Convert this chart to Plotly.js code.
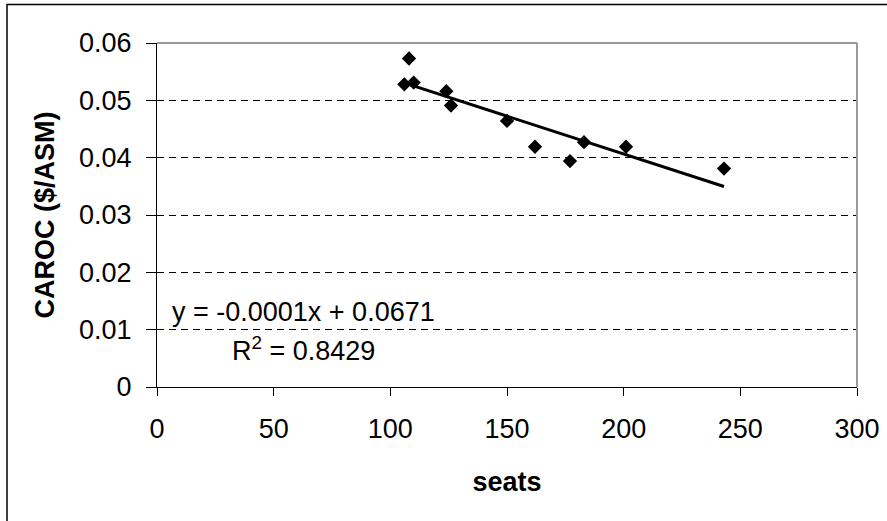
<!DOCTYPE html>
<html>
<head>
<meta charset="utf-8">
<script src="https://cdn.plot.ly/plotly-3.0.1.min.js"></script>
<style>
  html, body { margin: 0; padding: 0; background: #fff; }
  #chart { width: 887px; height: 521px; }
</style>
</head>
<body>
<div id="chart"></div>
<script>
// Data
var seats = [106, 108, 110, 124, 126, 150, 162, 177, 183, 201, 243];
var caroc = [0.0528, 0.0573, 0.0531, 0.0516, 0.0491, 0.0464, 0.0419, 0.0394, 0.0427, 0.0419, 0.0381];
var xTickVals = [0, 50, 100, 150, 200, 250, 300];
var yTickVals = [0, 0.01, 0.02, 0.03, 0.04, 0.05, 0.06];
var yTickText = ['0', '0.01', '0.02', '0.03', '0.04', '0.05', '0.06'];
var eqText = 'y = -0.0001x + 0.0671';
var r2Text = 'R<sup>2</sup> = 0.8429';

// Linear least-squares trendline computed from the data
var n = seats.length, sx = 0, sy = 0, sxx = 0, sxy = 0;
for (var i = 0; i < n; i++) { sx += seats[i]; sy += caroc[i]; sxx += seats[i]*seats[i]; sxy += seats[i]*caroc[i]; }
var slope = (n*sxy - sx*sy) / (n*sxx - sx*sx);
var intercept = (sy - slope*sx) / n;
var xMin = Math.min.apply(null, seats), xMax = Math.max.apply(null, seats);
var trendX = [xMin, xMax];
var trendY = trendX.map(function (x) { return intercept + slope * x; });

var font = 'Liberation Sans, Arial, sans-serif';
var FS = 27;

var data = [
  {
    x: trendX, y: trendY, type: 'scatter', mode: 'lines',
    line: { color: '#000', width: 3 }, hoverinfo: 'skip', showlegend: false
  },
  {
    x: seats, y: caroc, type: 'scatter', mode: 'markers',
    marker: { symbol: 'diamond', size: 11, color: '#000' }, showlegend: false
  }
];

var layout = {
  width: 887, height: 521,
  margin: { l: 157, r: 30, t: 43, b: 134 },
  paper_bgcolor: '#fff', plot_bgcolor: '#fff',
  font: { family: font, size: FS, color: '#000' },
  showlegend: false,
  xaxis: {
    range: [0, 300], tickvals: xTickVals, ticktext: xTickVals.map(String),
    showgrid: false, zeroline: false,
    showline: true, linecolor: '#000', linewidth: 1,
    ticks: 'outside', ticklen: 8, tickcolor: '#000', tickwidth: 1,
    ticklabelstandoff: 10,
    tickfont: { family: font, size: FS, color: '#000' },
    title: { text: '<b>seats</b>', font: { family: font, size: FS, color: '#000' }, standoff: 28 }
  },
  yaxis: {
    range: [0, 0.06], tickvals: yTickVals, ticktext: yTickText,
    showgrid: true, gridcolor: '#000', gridwidth: 1, griddash: '7px,5px',
    zeroline: false,
    showline: true, linecolor: '#000', linewidth: 1,
    ticks: 'outside', ticklen: 10, tickcolor: '#000', tickwidth: 1,
    ticklabelstandoff: 9,
    tickfont: { family: font, size: FS, color: '#000' },
    title: { text: '<b>CAROC ($/ASM)</b>', font: { family: font, size: FS, color: '#000' }, standoff: 16 }
  },
  shapes: [
    { type: 'line', xref: 'paper', yref: 'paper', x0: 0, x1: 1, y0: 1, y1: 1, line: { color: '#999', width: 2 } },
    { type: 'line', xref: 'paper', yref: 'paper', x0: 1, x1: 1, y0: 0, y1: 1, line: { color: '#999', width: 2 } },
    { type: 'rect', xref: 'paper', yref: 'paper',
      x0: (7 - 157) / 700, x1: (900 - 157) / 700, y0: (387 - 540) / 344, y1: (387 - 4.5) / 344,
      line: { color: '#000', width: 1.5 }, fillcolor: 'rgba(0,0,0,0)' }
  ],
  annotations: [
    { xref: 'paper', yref: 'paper', x: (303 - 157) / 700, y: (387 - 312) / 344,
      xanchor: 'center', yanchor: 'middle', align: 'center', showarrow: false,
      text: eqText, font: { family: font, size: FS, color: '#000' } },
    { xref: 'paper', yref: 'paper', x: (303 - 157) / 700, y: (387 - 349) / 344,
      xanchor: 'center', yanchor: 'middle', align: 'center', showarrow: false,
      text: r2Text, font: { family: font, size: FS, color: '#000' } }
  ]
};

Plotly.newPlot('chart', data, layout, { displayModeBar: false, staticPlot: true });
</script>
</body>
</html>
